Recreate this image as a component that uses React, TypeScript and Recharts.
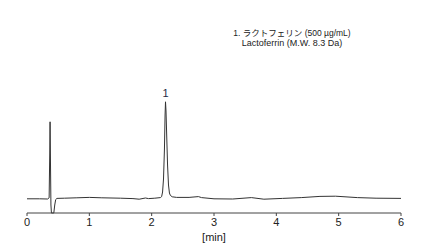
import React from 'react';
import { LineChart, Line, XAxis, YAxis, ReferenceDot } from 'recharts';

// retention time [min] and detector signal (arbitrary units, 0 = axis)
const times = [
  0, 0.2, 0.33, 0.355, 0.365, 0.37, 0.376, 0.384, 0.392, 0.43, 0.445, 0.46, 0.48,
  0.6, 0.8, 1.0, 1.2, 1.5, 1.7, 1.8, 1.9, 1.95, 2.05, 2.14, 2.16, 2.175, 2.19,
  2.205, 2.215, 2.222, 2.23, 2.24, 2.255, 2.27, 2.285, 2.3, 2.33, 2.4, 2.6,
  2.75, 2.8, 3.0, 3.3, 3.6, 3.8, 4.1, 4.4, 4.7, 4.95, 5.3, 5.6, 6.0,
];
const signal = [
  7.1, 7.1, 7.0, 7.6, 30, 45.6, 28, 4, 0, 0, 4, 6.7, 7.3,
  7.4, 7.6, 7.8, 7.6, 7.4, 7.2, 6.9, 7.5, 7.2, 7.4, 7.7, 8.2, 10.5, 17,
  32, 49, 55.6, 51, 40, 24, 14, 10, 8.8, 8.1, 7.8, 7.8,
  8.2, 7.7, 7.1, 7.0, 7.7, 6.9, 7.3, 7.7, 8.3, 8.4, 7.7, 7.4, 7.3,
];
const timeTicks = [0, 1, 2, 3, 4, 5, 6];
const peakLabel = '1';
const peakTime = 2.222;
const peakHeight = 55.6;
const noteLines = ['1. ラクトフェリン (500 µg/mL)', 'Lactoferrin (M.W. 8.3 Da)'];

const data = times.map((t, i) => ({ t, v: signal[i] }));

const font = "'Liberation Sans', Arial, sans-serif";

export default function App() {
  return (
    <div style={{ position: 'absolute', left: 0, top: 0, width: 422, height: 249, background: '#fff', fontFamily: font }}>
      <LineChart width={422} height={249} data={data} margin={{ top: 13, right: 21, bottom: 6, left: 27 }}>
        <XAxis
          dataKey="t"
          type="number"
          domain={[0, 6]}
          ticks={timeTicks}
          stroke="#444"
          tickSize={3}
          tick={{ fill: '#222', fontSize: 11, fontFamily: font }}
          height={30}
          label={{ value: '[min]', position: 'insideBottom', offset: 2, fill: '#222', fontSize: 11, fontFamily: font }}
        />
        <YAxis hide domain={[0, 100]} />
        <Line
          type="linear"
          dataKey="v"
          stroke="#333"
          strokeWidth={1}
          dot={false}
          isAnimationActive={false}
        />
        <ReferenceDot
          x={peakTime}
          y={peakHeight}
          r={0}
          stroke="none"
          label={{ value: peakLabel, position: 'top', offset: 5, fill: '#1f2a44', fontSize: 11, fontFamily: font }}
        />
      </LineChart>
      <div
        style={{
          position: 'absolute',
          left: 192,
          top: 28,
          width: 200,
          textAlign: 'center',
          fontSize: 9,
          lineHeight: '10px',
          color: '#222',
          fontFamily: "'Liberation Sans', Arial, 'Noto Sans CJK JP', sans-serif",
        }}
      >
        <div style={{ fontSize: 8.5 }}>{noteLines[0]}</div>
        <div>{noteLines[1]}</div>
      </div>
    </div>
  );
}
